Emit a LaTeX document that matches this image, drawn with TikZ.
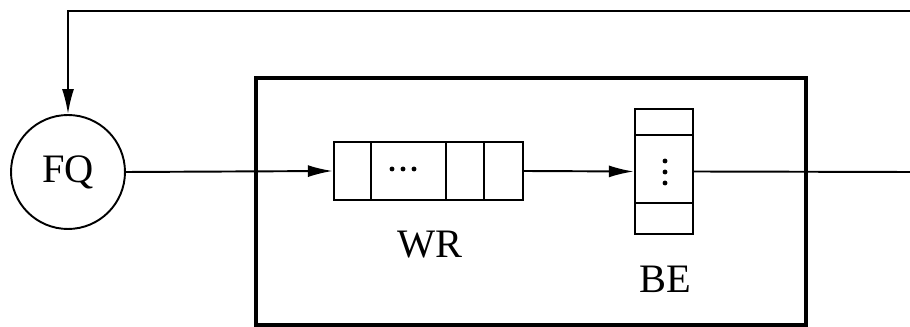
\documentclass[tikz,border=0pt]{standalone}
\usepackage{fontspec}
\setmainfont{Liberation Serif}
\usetikzlibrary{arrows.meta,positioning}

\tikzset{
  line/.style={line width=1.1pt},
  flow/.style={line width=1.1pt,-{Latex[length=0.5cm,width=0.24cm]}},
  cell/.style={draw,line width=1.4pt,inner sep=0pt},
  lbl/.style={font=\fontsize{23}{28}\selectfont}
}

\begin{document}
\begin{tikzpicture}[x=0.02cm,y=-0.02cm]
  \useasboundingbox (0,0) rectangle (910,327);

  % frame round the two queues
  \node[draw,line width=2.3pt,minimum width=11cm,minimum height=4.94cm,inner sep=0pt] (box) at (531,201.5) {};

  % flow queue
  \node[draw,circle,line width=1.1pt,minimum size=2.28cm,inner sep=0pt,lbl] (fq) at (68,172) {FQ};

  % WR queue
  \node[cell,minimum width=3.78cm,minimum height=1.16cm] (wr) at (428.5,171) {};
  \draw[line width=1.4pt] (371,142) -- (371,200) (446,142) -- (446,200) (484,142) -- (484,200);
  \foreach \x in {392,403,414}
    \fill (\x,169) circle (1.4pt);
  \node[lbl] (wrlbl) at (430,245) {WR};

  % BE queue
  \node[cell,minimum width=1.16cm,minimum height=2.5cm] (be) at (664,171.5) {};
  \draw[line width=1.4pt] (635,135) -- (693,135) (635,203) -- (693,203);
  \foreach \y in {161,172,183}
    \fill (665,\y) circle (1.4pt);
  \node[lbl] (belbl) at (665,279) {BE};

  % connectors
  \coordinate (out) at (910,172);
  \coordinate (back) at (910,11);
  \draw[flow] (fq.east) -- (wr.west);
  \draw[flow] (wr.east) -- (be.west);
  \draw[line] (be.east) -- (out);
  \draw[flow] (back) -- (68,11) -- (fq.north);
\end{tikzpicture}
\end{document}
